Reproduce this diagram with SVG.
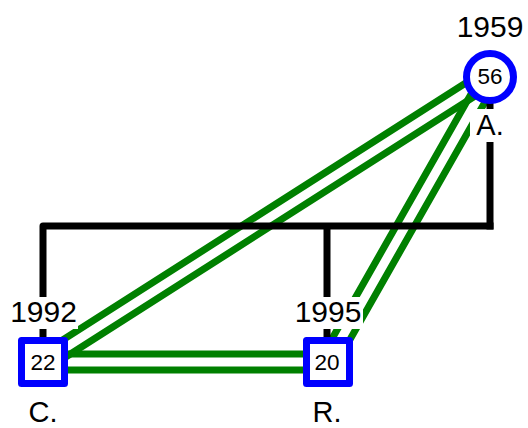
<svg xmlns="http://www.w3.org/2000/svg" width="528" height="428" viewBox="0 0 528 428">
<style>
.g{stroke:#008000;stroke-width:7;fill:none}
.k{stroke:#000;stroke-width:7;fill:none}
.nd{fill:#fff;stroke:#0000ff;stroke-width:7}
.yr{font-family:"Liberation Sans",Arial,sans-serif;font-size:30px;text-anchor:middle;fill:#000}
.nm{font-family:"Liberation Sans",Arial,sans-serif;font-size:29px;text-anchor:middle;fill:#000}
.num{font-family:"Liberation Sans",Arial,sans-serif;font-size:22.5px;text-anchor:middle;fill:#000}
.bg{fill:#fff}
</style>
<rect width="528" height="428" fill="#fff"/>
<g id="connectors">
<path class="g" d="M47.3,368.75 L494.3,83.75 M38.7,355.25 L485.7,70.25"/>
<path class="g" d="M334.95,365.95 L496.95,80.95 M321.05,358.05 L483.05,73.05"/>
<path class="g" d="M43,354 H328 M43,370 H328"/>
<path class="k" stroke-linejoin="round" d="M43,340 V226 H493.5"/>
<path class="k" d="M490,229.5 V100"/>
<path class="k" d="M327,226 V340"/>
</g>
<g id="node-A">
<circle class="nd" cx="490" cy="77" r="23.5"/>
<text class="num" x="490" y="84">56</text>
<rect class="bg" x="470" y="109" width="40" height="33"/>
<text class="nm" x="490" y="135">A.</text>
<rect class="bg" x="455" y="11" width="70" height="33"/>
<text class="yr" x="490" y="37">1959</text>
</g>
<g id="node-C">
<rect class="nd" x="21.5" y="340.5" width="43" height="43" stroke-linejoin="round"/>
<text class="num" x="43" y="370">22</text>
<rect class="bg" x="8" y="297" width="70" height="32"/>
<text class="yr" x="43.5" y="322">1992</text>
<text class="nm" x="43" y="422">C.</text>
</g>
<g id="node-R">
<rect class="nd" x="306.5" y="340.5" width="43" height="43" stroke-linejoin="round"/>
<text class="num" x="327" y="370">20</text>
<rect class="bg" x="293" y="297" width="70" height="32"/>
<text class="yr" x="328" y="322">1995</text>
<text class="nm" x="327" y="422">R.</text>
</g>
</svg>
